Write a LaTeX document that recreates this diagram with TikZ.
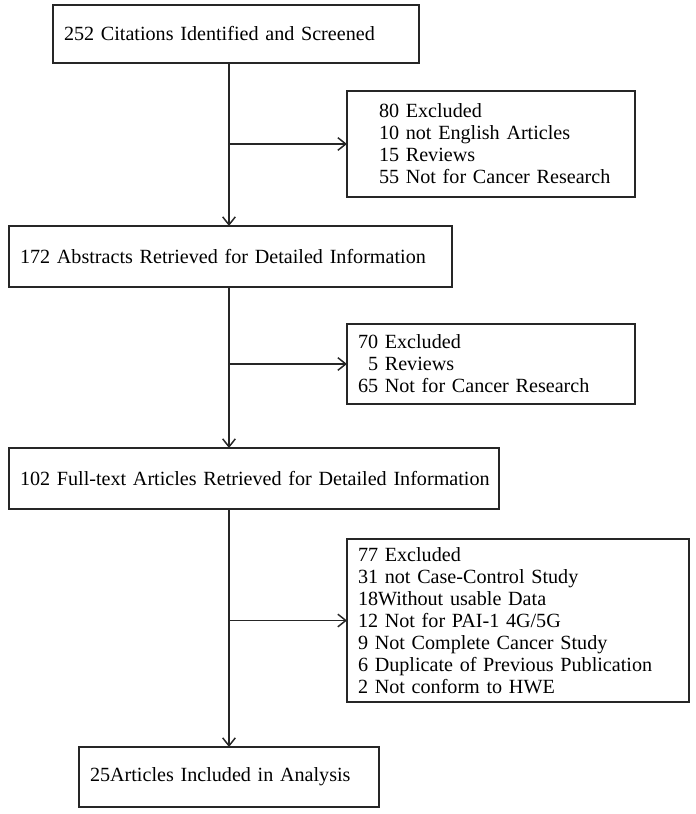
\documentclass[tikz,border=0pt]{standalone}
\usepackage{fontspec}
\setmainfont{Liberation Serif}
\usetikzlibrary{arrows.meta}
\definecolor{ink}{gray}{0.15}
\newcommand\ind{\hspace*{15.75pt}}
\newcommand\dig{\hphantom{6}}
\begin{document}
\begin{tikzpicture}[x=0.75pt,y=-0.75pt,
  every node/.style={font=\fontsize{15.1}{16.5}\selectfont, text=black},
  box/.style={draw=ink, line width=1.1pt, anchor=north west, align=left,
    inner xsep=8.25pt, inner ysep=0pt, outer sep=0pt},
  conn/.style={draw=ink, line width=1.1pt, -{Straight Barb[length=6pt,width=9.5pt,line width=1.1pt]}}]
\useasboundingbox (0,0) rectangle (696,814);
\node[box, minimum width={366*0.75pt}, minimum height={58*0.75pt}, text width={344*0.75pt}] (b1) at (53,5) {\mbox{252 Citations Identified and Screened}};
\node[box, minimum width={288*0.75pt}, minimum height={106*0.75pt}, text width={266*0.75pt}] (e1) at (347,91) {\ind 80 Excluded\\ \ind 10 not English Articles\\ \ind 15 Reviews\\ \ind 55 Not for Cancer Research};
\node[box, minimum width={443*0.75pt}, minimum height={61*0.75pt}, text width={421*0.75pt}] (b2) at (9,226) {\mbox{172 Abstracts Retrieved for Detailed Information}};
\node[box, minimum width={288*0.75pt}, minimum height={80*0.75pt}, text width={266*0.75pt}] (e2) at (347,324) {70 Excluded\\ \dig 5 Reviews\\ 65 Not for Cancer Research};
\node[box, minimum width={490*0.75pt}, minimum height={61*0.75pt}, text width={468*0.75pt}] (b3) at (9,448) {\mbox{102 Full-text Articles Retrieved for Detailed Information}};
\node[box, minimum width={342*0.75pt}, minimum height={163*0.75pt}, text width={320*0.75pt}] (e3) at (347,539) {77 Excluded\\ 31 not Case-Control Study\\ 18Without usable Data\\ 12 Not for PAI-1 4G/5G\\ 9 Not Complete Cancer Study\\ 6 Duplicate of Previous Publication\\ 2 Not conform to HWE};
\node[box, minimum width={300*0.75pt}, minimum height={60*0.75pt}, text width={278*0.75pt}] (b4) at (79,747) {\mbox{25Articles Included in Analysis}};
\coordinate (t) at (229,0);
\draw[conn] (b1.south -| t) -- (b2.north -| t);
\draw[conn] (t |- e1.west) -- (e1.west);
\draw[conn] (b2.south -| t) -- (b3.north -| t);
\draw[conn] (t |- e2.west) -- (e2.west);
\draw[conn] (b3.south -| t) -- (b4.north -| t);
\draw[conn] (t |- e3.west) -- (e3.west);
\end{tikzpicture}
\end{document}
